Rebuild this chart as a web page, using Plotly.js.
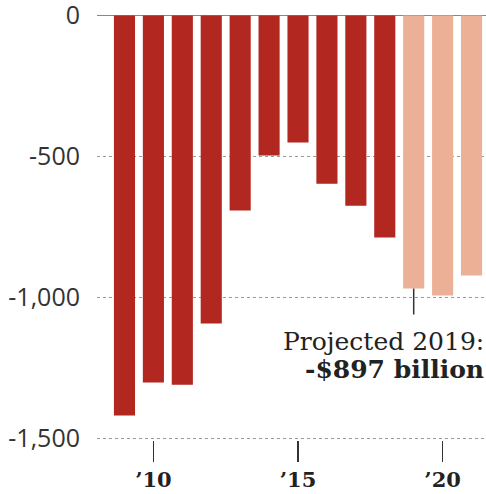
<!DOCTYPE html>
<html><head><meta charset="utf-8">
<script src="https://cdn.plot.ly/plotly-3.0.1.min.js"></script>
<style>html,body{margin:0;padding:0;background:#fff;}#chart{width:486px;height:494px;}</style>
</head><body><div id="chart"></div>
<script>
const years = [2009,2010,2011,2012,2013,2014,2015,2016,2017,2018,2019,2020,2021];
const deficits = [-1418,-1301,-1309,-1092,-691,-496,-450,-596,-674,-787,-968,-993,-922];
const projected = [false,false,false,false,false,false,false,false,false,false,true,true,true];
const yTickVals = [0,-500,-1000,-1500];
const yTickText = ['0','-500','-1,000','-1,500'];
const xTickVals = [2010,2015,2020];
const xTickText = ['’10','’15','’20'];
const noteYear = 2019;
const noteLine1 = 'Projected 2019:';
const noteLine2 = '-$897 billion';

const colors = projected.map(p => p ? '#ebb095' : '#b2271f');
const noteIdx = years.indexOf(noteYear);

const trace = {
  type:'bar', x:years, y:deficits, width:0.73,
  marker:{color:colors, line:{width:0}}, hoverinfo:'skip'
};
const layout = {
  width:486, height:494,
  margin:{l:97, r:0, t:15, b:54},
  paper_bgcolor:'#fff', plot_bgcolor:'#fff',
  showlegend:false,
  xaxis:{range:[2008.05,2021.5], tickmode:'array', tickvals:xTickVals, ticktext:xTickText,
    ticks:'outside', ticklen:21, tickwidth:1.5, tickcolor:'#333',
    showgrid:false, zeroline:false, showline:false,
    tickfont:{family:'DejaVu Serif', size:21, color:'#222', weight:'bold'}},
  yaxis:{range:[-1505,2], tickmode:'array', tickvals:yTickVals, ticktext:yTickText,
    showgrid:true, gridcolor:'#999', griddash:'dot', gridwidth:1.5,
    zeroline:true, zerolinecolor:'#888', zerolinewidth:1.5,
    showline:false, ticks:'', ticklabelstandoff:16, ticklabeloverflow:'allow',
    tickfont:{family:'Open Sans', size:25, color:'#333'}},
  shapes:[{type:'line', xref:'x', yref:'y', x0:noteYear, x1:noteYear,
    y0:deficits[noteIdx], y1:-1060, line:{color:'#333', width:1.5}}],
  annotations:[
    {xref:'paper', yref:'paper', x:1, y:1, xanchor:'right', yanchor:'top', showarrow:false,
     yshift:-310, text:noteLine1, font:{family:'DejaVu Serif', size:25, color:'#222'}},
    {xref:'paper', yref:'paper', x:1, y:1, xanchor:'right', yanchor:'top', showarrow:false,
     yshift:-338, text:'<b>'+noteLine2+'</b>', font:{family:'DejaVu Serif', size:25, color:'#222'}}
  ]
};
Plotly.newPlot('chart',[trace],layout,{displayModeBar:false, staticPlot:true});
</script></body></html>
